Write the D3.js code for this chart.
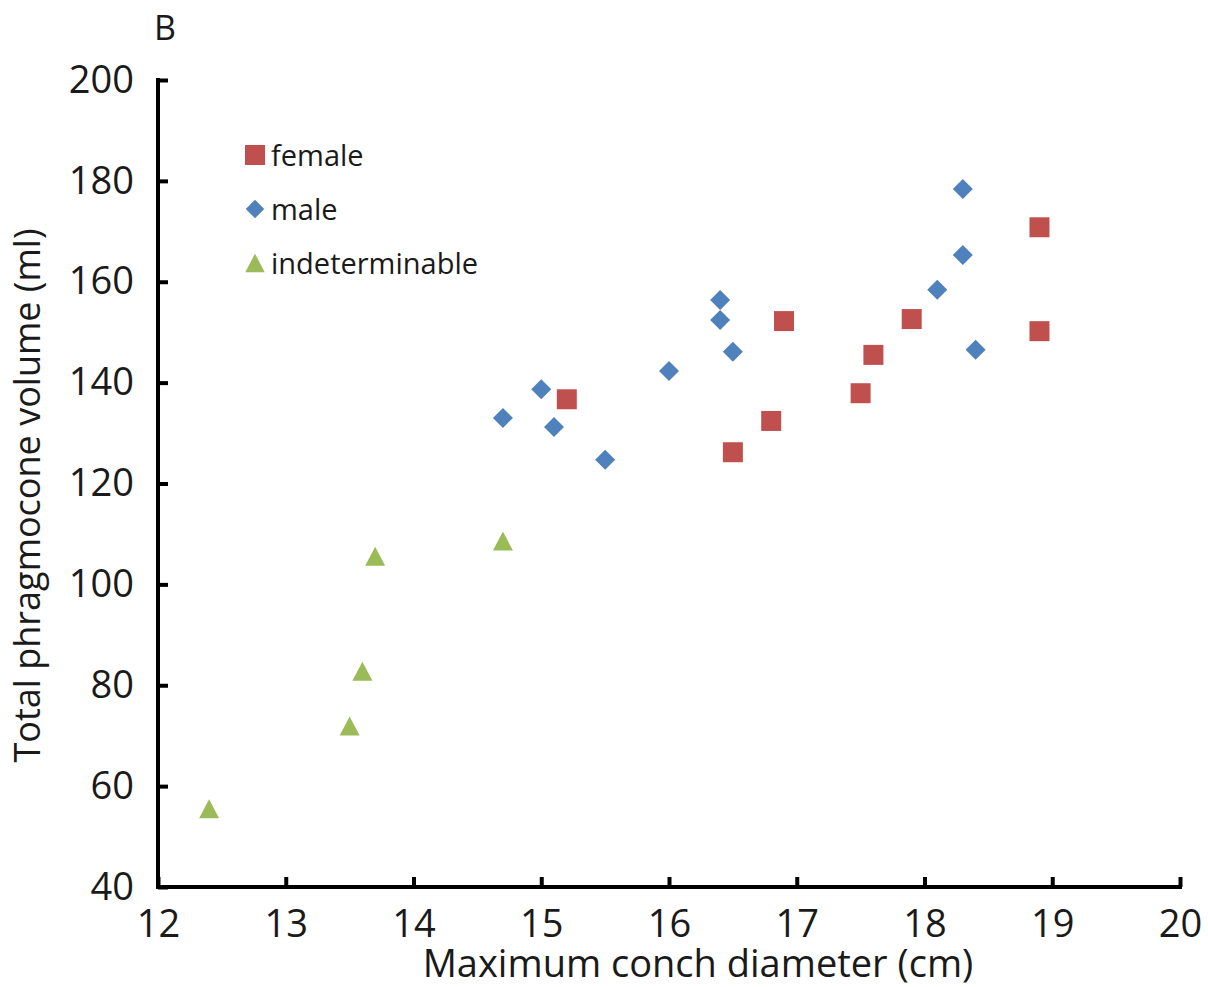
<!DOCTYPE html>
<html>
<head>
<meta charset="utf-8">
<script src="https://cdn.jsdelivr.net/npm/d3@7.9.0/dist/d3.min.js"></script>
<style>
  body { margin: 0; background: #fff; }
  svg text { font-family: "Open Sans", "Noto Sans", sans-serif; fill: #1a1a1a; }
</style>
</head>
<body>
<svg id="chart" width="1208" height="987"></svg>
<script>
// conch diameter (cm) vs phragmocone volume (ml)
const femaleX = [15.2, 16.5, 16.8, 16.9, 17.5, 17.6, 17.9, 18.9, 18.9];
const femaleY = [136.7, 126.2, 132.4, 152.2, 137.9, 145.5, 152.6, 170.8, 150.2];

const maleX = [14.7, 15.0, 15.1, 15.5, 16.0, 16.4, 16.4, 16.5, 18.1, 18.3, 18.3, 18.4];
const maleY = [133.0, 138.7, 131.2, 124.7, 142.3, 156.4, 152.4, 146.1, 158.4, 178.4, 165.3, 146.5];

const indetX = [12.4, 13.5, 13.6, 13.7, 14.7];
const indetY = [55.5, 71.9, 82.8, 105.6, 108.6];

const xTicks = [12, 13, 14, 15, 16, 17, 18, 19, 20];
const yTicks = [40, 60, 80, 100, 120, 140, 160, 180, 200];

// Excel-style triangle: a bit taller than equilateral, centred on its box
const boxTriangle = {
  draw(ctx, size) {
    const w = Math.sqrt(size), h = w * 0.95;
    ctx.moveTo(0, -h / 2);
    ctx.lineTo(w / 2, h / 2);
    ctx.lineTo(-w / 2, h / 2);
    ctx.closePath();
  }
};

const series = [
  { name: "female", color: "#C0504D", symbol: d3.symbolSquare, size: 400, legendSize: 400, rotate: 0, xs: femaleX, ys: femaleY },
  { name: "male", color: "#4F81BD", symbol: d3.symbolSquare, size: 200, legendSize: 170, rotate: 45, xs: maleX, ys: maleY },
  { name: "indeterminable", color: "#9BBB59", symbol: boxTriangle, size: 400, legendSize: 380, rotate: 0, xs: indetX, ys: indetY }
];

const svg = d3.select("#chart");
const margin = { left: 158, right: 28, top: 80, bottom: 100 };
const W = 1208, H = 987;

const x = d3.scaleLinear().domain([12, 20]).range([margin.left, W - margin.right]);
const y = d3.scaleLinear().domain([40, 200]).range([H - margin.bottom, margin.top]);

// axes with inward ticks
const xAxis = svg.append("g")
  .attr("transform", `translate(0,${y(40)})`)
  .call(d3.axisBottom(x).tickValues(xTicks).tickSize(-10).tickPadding(23).tickSizeOuter(0));
const yAxis = svg.append("g")
  .attr("transform", `translate(${x(12)},0)`)
  .call(d3.axisLeft(y).tickValues(yTicks).tickSize(-10).tickPadding(24).tickSizeOuter(0));

[xAxis, yAxis].forEach(g => {
  g.select(".domain").attr("stroke", "#000").attr("stroke-width", 4);
  g.selectAll(".tick line").attr("stroke", "#000").attr("stroke-width", 4);
  g.selectAll(".tick text").attr("font-size", 38).attr("fill", "#1a1a1a")
    .style("font-family", '"Open Sans", sans-serif');
});
xAxis.selectAll(".tick text").attr("dy", "0.71em");
// extend domain lines to cover the corner
xAxis.select(".domain").attr("d", `M${x(12) - 2},0H${x(20) + 2}`);
yAxis.select(".domain").attr("d", `M0,${y(40) + 2}V${y(200) - 2}`);

// points
series.forEach(s => {
  const sym = d3.symbol().type(s.symbol).size(s.size);
  svg.append("g").selectAll("path")
    .data(s.xs.map((v, i) => [v, s.ys[i]]))
    .join("path")
    .attr("d", sym)
    .attr("fill", s.color)
    .attr("transform", d => `translate(${x(d[0])},${y(d[1])}) rotate(${s.rotate})`);
});

// legend
const legend = svg.append("g").attr("transform", "translate(255,155)");
series.forEach((s, i) => {
  const row = legend.append("g").attr("transform", `translate(0,${i * 54})`);
  row.append("path")
    .attr("d", d3.symbol().type(s.symbol).size(s.legendSize)())
    .attr("fill", s.color)
    .attr("transform", `rotate(${s.rotate})`);
  row.append("text")
    .attr("x", 16).attr("y", 11)
    .attr("font-size", 29)
    .text(s.name);
});

// axis titles
svg.append("text")
  .attr("x", 698).attr("y", 977)
  .attr("text-anchor", "middle").attr("font-size", 38)
  .text("Maximum conch diameter (cm)");
svg.append("text")
  .attr("transform", `translate(40,${(y(40) + y(200)) / 2 + 12}) rotate(-90)`)
  .attr("text-anchor", "middle").attr("font-size", 36)
  .text("Total phragmocone volume (ml)");

// panel letter
svg.append("text").attr("x", 154).attr("y", 40).attr("font-size", 34).text("B");
</script>
</body>
</html>
